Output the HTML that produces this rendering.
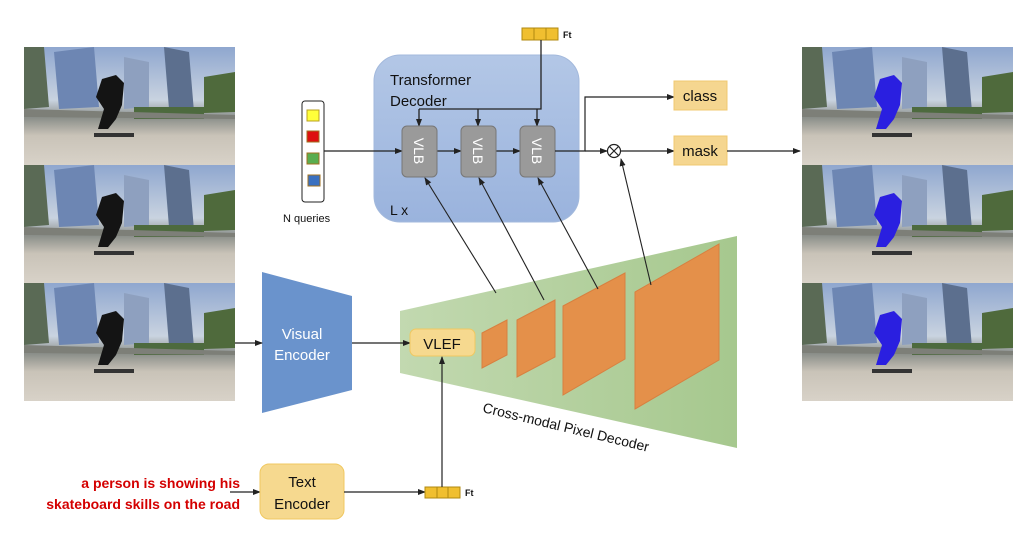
<!DOCTYPE html>
<html><head><meta charset="utf-8"><style>
html,body{margin:0;padding:0;background:#fff}
svg{display:block}
text{font-family:"Liberation Sans",sans-serif}
</style></head><body>
<svg width="1032" height="540" viewBox="0 0 1032 540" xmlns="http://www.w3.org/2000/svg">
<defs>
<linearGradient id="sky" x1="0" y1="0" x2="0" y2="1">
<stop offset="0" stop-color="#8fa7cf"/><stop offset="0.45" stop-color="#c9d3e0"/><stop offset="0.6" stop-color="#8b8f8a"/><stop offset="0.75" stop-color="#c9c3b8"/><stop offset="1" stop-color="#d8d2c8"/>
</linearGradient>
<linearGradient id="tg" x1="0" y1="0" x2="0" y2="1"><stop offset="0" stop-color="#b3c7e6"/><stop offset="1" stop-color="#9ab3dd"/></linearGradient>
<linearGradient id="gg" x1="0" y1="0" x2="1" y2="0"><stop offset="0" stop-color="#c2d9b0"/><stop offset="1" stop-color="#a6c88e"/></linearGradient>
<marker id="a" markerWidth="8" markerHeight="8" refX="7" refY="4" orient="auto" markerUnits="userSpaceOnUse"><path d="M0,1 L8,4 L0,7 z" fill="#222"/></marker>
<g id="photo">
<rect x="0" y="0" width="211" height="118" fill="url(#sky)"/>
<path d="M30,5 L70,0 L75,60 L35,62 z" fill="#6d86b3"/>
<path d="M140,0 L165,5 L170,65 L145,62 z" fill="#5c6f8e"/>
<path d="M100,10 L125,15 L125,60 L100,62z" fill="#8ea0bf"/>
<path d="M0,0 L20,0 L25,60 L0,62z" fill="#5a6a55"/>
<path d="M180,30 L211,25 L211,65 L180,66z" fill="#4f6a3c"/>
<path d="M110,60 L180,60 L180,72 L110,72z" fill="#4d6a3e"/>
<path d="M0,62 L211,68 L211,72 L0,70z" fill="#7d7f78"/>
</g>
<g id="person">
<path d="M78,32 L92,28 L100,36 L98,58 L92,72 L84,82 L74,82 L80,62 L72,50 z" fill="#141414"/>
<rect x="70" y="86" width="40" height="4" fill="#333"/>
</g>
<g id="mperson">
<path d="M78,32 L92,28 L100,36 L98,58 L92,72 L84,82 L74,82 L80,62 L72,50 z" fill="#2a1fe0"/>
<rect x="70" y="86" width="40" height="4" fill="#333"/>
</g>
</defs>

<!-- left photos -->
<g transform="translate(24,47)"><use href="#photo"/><use href="#person"/></g>
<g transform="translate(24,165)"><use href="#photo"/><use href="#person"/></g>
<g transform="translate(24,283)"><use href="#photo"/><use href="#person"/></g>
<!-- right photos -->
<g transform="translate(802,47)"><use href="#photo"/><use href="#mperson"/></g>
<g transform="translate(802,165)"><use href="#photo"/><use href="#mperson"/></g>
<g transform="translate(802,283)"><use href="#photo"/><use href="#mperson"/></g>

<!-- transformer decoder -->
<rect x="374" y="55" width="205" height="167" rx="26" fill="url(#tg)" stroke="#a3b9dc"/>
<text x="390" y="85" font-size="15" fill="#111">Transformer</text>
<text x="390" y="106" font-size="15" fill="#111">Decoder</text>
<text x="390" y="215" font-size="14" fill="#111">L x</text>

<!-- queries -->
<rect x="302" y="101" width="22" height="101" rx="3" fill="#fff" stroke="#222"/>
<rect x="307" y="110" width="12" height="11" fill="#ffff3a" stroke="#b9a020"/>
<rect x="307" y="131" width="12" height="11" fill="#dd1010" stroke="#a07020"/>
<rect x="307" y="153" width="12" height="11" fill="#5aad4f" stroke="#a07020"/>
<rect x="308" y="175" width="12" height="11" fill="#3a70c0" stroke="#a07020"/>
<text x="283" y="222" font-size="11" fill="#111">N queries</text>

<!-- top Ft -->
<rect x="522" y="28" width="36" height="12" fill="#f0bf30" stroke="#b08a10"/>
<line x1="534" y1="28" x2="534" y2="40" stroke="#b08a10"/><line x1="546" y1="28" x2="546" y2="40" stroke="#b08a10"/>
<text x="563" y="38" font-size="9" font-weight="bold" fill="#111">Ft</text>
<path d="M541,40 V109 H419" fill="none" stroke="#222" stroke-width="1.3"/>
<line x1="419" y1="109" x2="419" y2="126" stroke="#222" stroke-width="1.3" marker-end="url(#a)"/>
<line x1="478" y1="109" x2="478" y2="126" stroke="#222" stroke-width="1.3" marker-end="url(#a)"/>
<line x1="537" y1="109" x2="537" y2="126" stroke="#222" stroke-width="1.3" marker-end="url(#a)"/>

<!-- VLB -->
<line x1="324" y1="151" x2="402" y2="151" stroke="#222" stroke-width="1.2" marker-end="url(#a)"/>
<line x1="437" y1="151" x2="461" y2="151" stroke="#222" stroke-width="1.2" marker-end="url(#a)"/>
<line x1="496" y1="151" x2="520" y2="151" stroke="#222" stroke-width="1.2" marker-end="url(#a)"/>
<g font-size="14" fill="#fff">
<rect x="402" y="126" width="35" height="51" rx="5" fill="#9a9a9a" stroke="#777"/>
<text transform="translate(414,151) rotate(90)" text-anchor="middle">VLB</text>
<rect x="461" y="126" width="35" height="51" rx="5" fill="#9a9a9a" stroke="#777"/>
<text transform="translate(473,151) rotate(90)" text-anchor="middle">VLB</text>
<rect x="520" y="126" width="35" height="51" rx="5" fill="#9a9a9a" stroke="#777"/>
<text transform="translate(532,151) rotate(90)" text-anchor="middle">VLB</text>
</g>
<path d="M555,151 H585 V97 H674" fill="none" stroke="#222" stroke-width="1.2" marker-end="url(#a)"/>
<line x1="585" y1="151" x2="607" y2="151" stroke="#222" stroke-width="1.2" marker-end="url(#a)"/>
<circle cx="614" cy="151" r="6.5" fill="#fff" stroke="#222" stroke-width="1.2"/>
<path d="M609.5,146.5 L618.5,155.5 M618.5,146.5 L609.5,155.5" stroke="#222" stroke-width="1.2"/>
<line x1="620.5" y1="151" x2="674" y2="151" stroke="#222" stroke-width="1.2" marker-end="url(#a)"/>
<rect x="674" y="81" width="53" height="29" fill="#f5d690" stroke="#f0c870"/>
<text x="700" y="101" font-size="15" text-anchor="middle" fill="#111">class</text>
<rect x="674" y="136" width="53" height="29" fill="#f5d690" stroke="#f0c870"/>
<text x="700" y="156" font-size="15" text-anchor="middle" fill="#111">mask</text>
<line x1="727" y1="151" x2="800" y2="151" stroke="#222" stroke-width="1.2" marker-end="url(#a)"/>

<!-- pixel decoder -->
<path d="M400,311 L737,236 L737,448 L400,373 z" fill="url(#gg)"/>
<g fill="#e4904a" stroke="#d88040">
<path d="M482,333 L507,320 L507,355 L482,368 z"/>
<path d="M517,320 L555,300 L555,357 L517,377 z"/>
<path d="M563,306 L625,273 L625,359 L563,395 z"/>
<path d="M635,292 L719,244 L719,360 L635,409 z"/>
</g>
<text transform="translate(482,412) rotate(13.5)" font-size="14" fill="#111">Cross-modal Pixel Decoder</text>

<!-- up arrows -->
<g stroke="#222" stroke-width="1.1" fill="none">
<line x1="496" y1="293" x2="425" y2="178" marker-end="url(#a)"/>
<line x1="544" y1="300" x2="479" y2="178" marker-end="url(#a)"/>
<line x1="598" y1="289" x2="538" y2="178" marker-end="url(#a)"/>
<line x1="651" y1="285" x2="621" y2="159" marker-end="url(#a)"/>
</g>

<!-- visual encoder -->
<path d="M262,272 L352,296 L352,390 L262,413 z" fill="#6a93cc"/>
<text x="302" y="339" font-size="15" fill="#fff" text-anchor="middle">Visual</text>
<text x="302" y="360" font-size="15" fill="#fff" text-anchor="middle">Encoder</text>
<line x1="235" y1="343" x2="262" y2="343" stroke="#222" stroke-width="1.2" marker-end="url(#a)"/>
<line x1="352" y1="343" x2="410" y2="343" stroke="#222" stroke-width="1.2" marker-end="url(#a)"/>
<rect x="410" y="329" width="65" height="27" rx="6" fill="#f6d98f" stroke="#f0c860"/>
<text x="442" y="349" font-size="15" text-anchor="middle" fill="#111">VLEF</text>

<!-- text branch -->
<text x="240" y="488" font-size="14" font-weight="bold" fill="#d40000" text-anchor="end">a person is showing his</text>
<text x="240" y="509" font-size="14" font-weight="bold" fill="#d40000" text-anchor="end">skateboard skills on the road</text>
<line x1="230" y1="492" x2="260" y2="492" stroke="#222" stroke-width="1.2" marker-end="url(#a)"/>
<rect x="260" y="464" width="84" height="55" rx="9" fill="#f6d98f" stroke="#f0c860"/>
<text x="302" y="487" font-size="15" text-anchor="middle" fill="#111">Text</text>
<text x="302" y="509" font-size="15" text-anchor="middle" fill="#111">Encoder</text>
<line x1="344" y1="492" x2="425" y2="492" stroke="#222" stroke-width="1.2" marker-end="url(#a)"/>
<rect x="425" y="487" width="35" height="11" fill="#f0bf30" stroke="#b08a10"/>
<line x1="437" y1="487" x2="437" y2="498" stroke="#b08a10"/><line x1="448" y1="487" x2="448" y2="498" stroke="#b08a10"/>
<text x="465" y="496" font-size="9" font-weight="bold" fill="#111">Ft</text>
<line x1="442" y1="487" x2="442" y2="357" stroke="#222" stroke-width="1.2" marker-end="url(#a)"/>
</svg>
</body></html>
